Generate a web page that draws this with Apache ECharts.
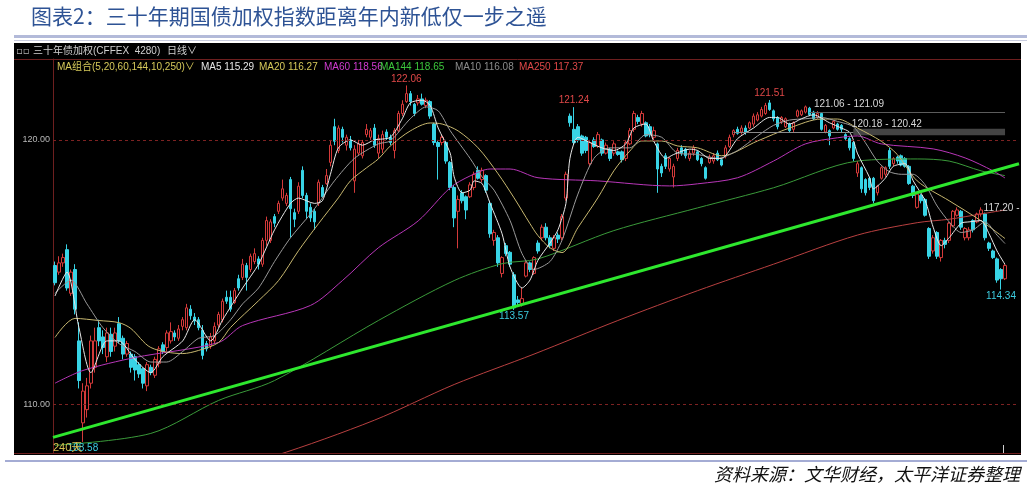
<!DOCTYPE html>
<html><head><meta charset="utf-8">
<script src="https://cdn.jsdelivr.net/npm/echarts@6/dist/echarts.min.js"></script>
<style>html,body{margin:0;padding:0;background:#fff;}#c{width:1032px;height:489px;}</style>
</head><body><div id="c"></div>
<script>
// ---- data ----
const opens = [
115.25,115.0,115.35,115.85,114.2,115.1,112.4,109.3,109.8,110.8,
111.4,112.9,112.55,111.8,112.65,112.2,113.05,112.5,111.9,111.9,
111.8,111.5,111.35,110.7,111.4,111.1,111.55,112.25,112.15,112.4,
112.7,112.5,112.95,112.9,113.6,113.3,113.2,112.8,112.3,112.2,
112.4,113.0,113.2,114.05,114.05,113.85,114.75,114.8,115.25,115.1,
115.4,115.5,115.3,116.2,116.2,117.1,117.3,117.8,117.6,118.5,
117.25,117.3,118.85,117.9,117.45,117.3,117.6,118.2,118.35,119.15,
120.5,119.6,120.4,119.8,120.0,118.45,119.5,119.4,120.2,120.1,
120.45,119.5,119.65,120.3,120.1,119.6,120.35,121.0,121.45,121.75,
121.35,121.4,121.55,121.3,121.45,120.6,119.9,119.9,119.9,119.15,
118.2,117.3,118.0,117.85,117.85,118.2,118.85,118.5,118.65,117.6,
116.2,116.3,114.95,116.0,115.75,114.9,113.95,113.8,114.85,115.35,
114.95,116.1,116.3,116.7,116.3,115.9,116.4,116.3,117.8,120.9,
120.4,120.5,120.15,120.1,119.1,120.0,119.75,120.0,119.5,119.65,
119.5,119.55,119.55,119.3,119.85,120.4,120.85,120.6,120.65,120.5,
120.1,119.85,119.0,119.4,118.9,118.6,119.3,119.7,119.65,119.3,
119.5,119.55,119.3,118.95,119.15,119.2,119.5,119.25,119.4,119.75,
120.2,120.4,120.3,120.45,120.45,120.6,120.75,120.9,121.0,121.4,
121.1,120.85,120.7,120.5,120.6,120.4,120.9,120.95,121.05,121.2,
121.05,120.85,121.0,120.3,120.35,120.45,120.6,120.55,120.2,120.05,
119.9,118.75,118.95,118.5,118.55,118.55,118.0,118.55,118.7,119.6,
119.1,119.35,119.4,119.3,119.0,118.25,117.45,117.9,117.75,116.65,
115.8,116.5,115.55,116.2,116.2,116.75,117.15,117.3,116.3,116.3,
116.95,116.9,117.2,117.2,116.1,115.8,115.5,115.1,114.75];
const closes = [
114.6,115.35,115.55,114.4,115.0,113.6,110.9,110.5,110.7,112.4,
112.4,112.4,112.15,112.7,112.0,112.7,112.4,111.9,112.3,111.4,
111.3,111.15,110.8,111.5,111.2,111.7,112.1,112.0,112.7,112.75,
112.55,112.85,113.2,113.65,113.35,113.15,112.9,111.85,112.1,112.55,
112.95,113.4,113.9,113.9,113.6,114.3,114.4,115.3,114.8,115.6,
115.7,115.3,116.2,116.95,116.9,116.85,117.6,118.15,117.9,117.4,
117.0,118.25,117.9,117.3,117.05,116.9,118.4,117.85,118.65,119.8,
119.95,120.45,120.1,120.1,119.7,119.65,119.85,119.9,120.4,120.35,
119.8,120.05,120.2,120.1,119.9,120.35,121.0,121.35,121.75,121.45,
121.0,121.55,121.35,121.5,120.9,119.9,119.75,120.1,119.2,118.2,
117.05,117.75,117.7,117.35,118.3,118.7,118.55,118.85,118.1,116.45,
116.5,115.35,115.55,115.7,115.3,113.65,113.85,114.0,115.35,115.1,
115.55,115.8,116.7,116.3,116.0,116.3,116.25,117.1,118.7,120.65,
119.9,120.0,119.5,119.6,119.9,119.75,120.2,119.5,119.8,119.3,
119.85,119.45,119.25,119.9,120.35,121.0,120.7,121.0,120.15,120.2,
120.35,118.9,118.75,119.0,119.3,119.0,119.6,119.5,119.4,119.5,
119.7,119.25,119.1,118.55,119.35,119.4,119.25,119.05,119.7,120.1,
120.35,120.25,120.45,120.3,120.65,120.9,120.95,121.15,121.3,121.15,
120.8,120.5,120.85,120.8,120.35,120.65,121.1,121.1,121.25,120.95,
120.8,121.0,120.4,120.55,120.15,120.7,120.4,120.4,120.05,119.7,
119.3,119.1,118.15,118.0,118.2,117.7,118.25,118.95,118.95,119.0,
119.3,119.2,119.05,119.0,118.35,117.9,117.95,117.7,117.15,115.6,
116.3,115.6,116.2,116.05,116.85,117.3,117.35,116.7,116.65,116.6,
116.6,117.2,117.35,116.3,115.9,115.55,114.7,114.75,115.25];
const lows = [
114.5,114.9,115.2,114.3,114.1,113.4,110.6,108.58,109.5,110.6,
111.2,112.2,111.9,111.6,111.8,112.0,112.3,111.7,111.8,111.2,
110.9,111.0,110.6,110.5,111.1,111.0,111.4,111.9,112.0,112.3,
112.4,112.4,112.8,112.8,113.2,113.0,112.8,111.7,112.0,112.1,
112.3,112.9,113.1,113.8,113.5,113.8,114.3,114.7,114.3,115.0,
115.3,115.1,115.2,116.0,116.1,116.7,117.2,117.7,117.5,116.3,
116.7,117.2,117.8,117.0,116.9,116.6,117.5,117.8,118.3,119.0,
119.8,119.5,119.9,119.6,119.6,118.0,119.4,119.3,120.1,120.0,
119.7,119.3,119.5,120.0,119.8,119.3,120.3,120.9,121.4,121.3,
120.9,121.3,121.3,121.2,120.8,119.8,118.5,119.8,119.1,118.1,
116.7,115.9,117.6,117.0,117.8,118.1,118.5,118.4,118.0,116.3,
116.0,115.2,114.8,115.6,115.2,113.57,113.7,113.7,114.8,115.0,
114.9,115.7,116.2,116.2,115.9,115.8,116.1,116.2,117.7,120.5,
119.8,119.9,119.4,119.5,119.0,119.7,119.7,119.4,119.45,119.2,
119.4,119.4,119.15,119.2,119.8,120.3,120.6,120.5,120.1,120.1,
120.0,118.0,118.6,118.9,118.8,118.2,119.2,119.4,119.3,119.2,
119.4,119.2,119.0,118.5,119.1,119.1,119.2,119.0,119.3,119.7,
120.1,120.2,120.2,120.2,120.4,120.5,120.7,120.85,120.95,121.1,
120.7,120.4,120.6,120.45,120.3,120.3,120.85,120.9,121.0,120.9,
120.75,120.8,120.35,120.25,119.8,120.4,120.35,120.3,120.0,119.6,
119.2,118.6,118.0,117.9,118.1,117.6,117.9,118.5,118.6,118.9,
119.0,119.1,119.0,118.95,118.3,117.8,117.4,117.6,117.1,115.5,
115.7,115.5,115.4,115.9,116.1,116.7,117.1,116.6,116.2,116.2,
116.5,116.85,117.1,116.2,115.8,115.5,114.6,114.34,114.7];
const highs = [
115.4,115.6,115.7,116.05,115.1,115.3,113.1,110.8,111.0,112.6,
112.9,113.2,112.8,112.9,112.9,112.9,113.3,112.6,112.4,112.0,
111.9,111.6,111.4,111.6,111.5,111.8,112.2,112.35,112.8,113.1,
112.8,113.0,113.3,113.8,113.75,113.45,113.3,113.0,112.4,112.7,
113.1,113.5,114.0,114.3,114.3,114.4,114.9,115.5,115.35,115.7,
115.9,115.6,116.3,117.1,117.0,117.2,117.7,118.5,118.0,118.6,
117.4,118.4,119.0,118.0,117.6,117.4,118.5,118.3,118.9,120.0,
120.8,120.55,120.5,120.2,120.15,119.8,120.0,120.0,120.6,120.45,
120.6,120.2,120.35,120.4,120.2,120.45,121.1,121.5,122.06,121.85,
121.4,121.7,121.75,121.6,121.5,120.65,120.0,120.2,120.0,119.2,
118.3,117.9,118.1,117.9,118.4,118.8,119.0,118.95,118.7,117.7,
116.6,116.4,115.6,116.1,115.8,115.0,114.1,114.4,115.45,115.4,
115.6,116.2,116.8,116.85,116.4,116.4,116.5,117.2,118.8,121.0,
121.24,120.6,120.2,120.15,120.0,120.1,120.3,120.05,119.9,119.7,
119.95,119.6,119.6,120.0,120.45,121.1,120.95,121.1,120.7,120.6,
120.5,119.9,119.1,119.5,119.35,119.1,119.7,119.8,119.7,119.6,
119.8,119.6,119.35,119.0,119.45,119.5,119.6,119.3,119.8,120.2,
120.4,120.5,120.55,120.55,120.7,121.0,121.05,121.25,121.4,121.51,
121.15,120.9,120.9,120.85,120.65,120.7,121.15,121.15,121.3,121.25,
121.1,121.09,121.05,120.6,120.4,120.75,120.65,120.6,120.25,120.1,
119.95,119.2,119.0,118.55,118.6,118.6,118.3,119.0,119.0,119.7,
119.35,119.4,119.45,119.35,119.05,118.3,118.0,117.95,117.8,116.7,
116.4,116.55,116.25,116.3,116.9,117.35,117.45,117.35,116.7,116.7,
117.0,117.25,117.45,117.25,116.15,115.85,115.55,115.15,115.3];

// moving-average curves, read as [day index, value] points
const ma5 = [[0,114.1],[3,115.0],[6,112.9],[9,111.2],[13,112.4],[16,112.4],[20,111.7],[24,111.2],[27,111.8],[32,112.4],[35,113.2],[39,112.4],[42,113.2],[47,114.4],[51,115.3],[55,116.6],[59,117.6],[61,117.8],[65,117.6],[67,117.7],[69,118.7],[71,119.7],[74,120.0],[77,119.8],[80,120.0],[84,120.1],[87,120.8],[89,121.4],[92,121.5],[94,121.3],[96,120.45],[99,119.5],[100,118.6],[102,118.0],[104,118.1],[105,118.45],[107,118.35],[109,117.6],[112,116.45],[114,115.2],[117,114.4],[119,114.7],[121,115.45],[124,116.1],[126,116.6],[128,117.6],[129,119.3],[131,120.1],[134,119.9],[137,119.7],[140,119.6],[143,119.85],[145,120.45],[148,120.6],[150,119.95],[153,119.3],[155,119.45],[159,119.65],[161,119.6],[164,119.3],[167,119.3],[171,120.05],[175,120.45],[179,120.85],[181,120.85],[184,120.6],[187,120.8],[190,120.95],[194,120.65],[197,120.45],[199,120.3],[200,120.0],[201,119.5],[204,118.6],[205,118.15],[208,118.55],[210,119.0],[213,119.1],[215,118.45],[218,117.7],[220,116.7],[222,116.0],[224,116.3],[227,116.85],[229,116.9],[232,116.95],[234,116.45],[236,115.8],[238,115.29]];
const ma10 = [[0,114.2],[4,114.7],[8,113.8],[12,112.9],[16,112.3],[20,112.0],[24,111.6],[28,111.6],[32,112.0],[36,112.5],[40,112.6],[44,113.2],[47,113.8],[51,114.4],[55,115.4],[59,116.3],[64,117.2],[66,117.6],[70,118.45],[75,119.3],[81,119.85],[84,119.96],[89,120.8],[93,121.25],[96,121.1],[99,120.35],[104,119.3],[107,118.6],[110,118.1],[114,116.95],[117,115.7],[120,115.1],[124,115.4],[127,116.2],[131,117.95],[135,119.3],[139,119.7],[144,119.7],[148,120.2],[152,120.1],[156,119.5],[161,119.45],[166,119.3],[171,119.6],[176,120.15],[180,120.55],[184,120.75],[188,120.8],[192,120.85],[196,120.7],[200,120.5],[203,119.9],[206,119.2],[209,118.8],[212,118.7],[215,118.7],[218,118.3],[221,117.5],[224,116.9],[227,116.5],[230,116.6],[233,116.9],[236,116.4],[238,116.08]];
const ma20 = [[0,112.53],[5,113.25],[11,113.17],[16,113.09],[19,112.87],[24,112.15],[32,111.92],[36,112.04],[41,112.34],[44,112.91],[51,113.92],[56,114.68],[61,115.81],[66,116.83],[71,117.81],[74,118.45],[78,118.94],[81,119.28],[84,119.77],[89,120.34],[94,120.64],[97,120.6],[101,120.34],[106,119.7],[111,118.72],[115,117.81],[119,116.83],[121,116.38],[124,115.92],[127,115.74],[131,116.68],[136,117.81],[140,118.83],[144,119.58],[147,119.96],[152,119.96],[156,119.77],[161,119.7],[167,119.4],[176,119.96],[184,120.45],[192,120.79],[196,120.79],[201,120.45],[207,119.95],[211,119.45],[216,118.45],[224,117.7],[232,116.94],[238,116.27]];
const ma60 = [[0,110.8],[7,111.28],[20,111.77],[41,112.34],[47,112.98],[64,113.74],[72,114.68],[81,115.92],[91,116.94],[99,118.19],[104,118.64],[109,118.9],[114,118.9],[121,118.57],[136,118.45],[154,118.26],[161,118.34],[171,118.57],[180,119.2],[188,119.85],[196,120.08],[201,120.15],[207,119.85],[220,119.66],[228,119.32],[235,118.83],[238,118.56]];
const ma144 = [[0,108.45],[24,108.9],[41,110.15],[55,110.9],[81,113.17],[100,114.68],[112,115.32],[121,115.5],[140,116.57],[161,117.43],[180,118.19],[201,119.2],[216,119.28],[224,119.2],[232,118.83],[238,118.65]];
const ma250 = [[40,107.5],[55,108.05],[80,109.4],[100,110.75],[120,111.9],[141,113.17],[161,114.3],[180,115.3],[201,116.4],[216,116.87],[224,117.0],[232,117.2],[238,117.35]];

const trendLine = [108.75, 119.10];           // hand-drawn support line, left edge -> right edge
const yTicks = [110, 120];
const highMarks = [[88,122.06],[130,121.24],[179,121.51]];
const lowMarks = [[7,108.58],[115,113.57],[237,114.34]];
const zoneBand = {lineFrom:170, from:200, to:238, low:120.18, high:120.42};
const zoneLine = {from:189, to:238, low:121.06, high:121.09};
const lastMark = [232, 117.20];
const maLegend = [
  ['MA5', '115.29', '#e6e6e6'], ['MA20', '116.27', '#d6c95a'], ['MA60', '118.56', '#d23cd2'],
  ['MA144', '118.65', '#3cc83c'], ['MA10', '116.08', '#8c8c8c'], ['MA250', '117.37', '#e04848']
];
const dayCount = 242;
const categories = Array.from({length: dayCount}, (_, i) => 'D' + (i + 1));

// ---- chart ----
const chart = echarts.init(document.getElementById('c'), null, {renderer: 'canvas'});
const FONT = '"Liberation Sans", "Noto Sans CJK SC", sans-serif';
const candles = opens.map((o, i) => [o, closes[i], lows[i], highs[i]]);

function maSeries(name, data, color, smooth) {
  return {name, type: 'line', data, symbol: 'none', smooth, silent: true,
    lineStyle: {color, width: 1}, z: 3};
}

const legendX = [201, 259, 324, 380, 455, 519];
const graphics = [
  {type: 'rect', shape: {x: 14, y: 43, width: 1007, height: 412}, style: {fill: '#000'}, z: -10},
  {type: 'text', z: 50, style: {x: 31, y: 16, text: '图表2：三十年期国债加权指数距离年内新低仅一步之遥',
    fill: '#2e5395', font: '21px "Noto Sans CJK SC"', verticalAlign: 'middle'}},
  {type: 'rect', shape: {x: 14, y: 35, width: 1013, height: 3}, style: {fill: '#b3bad9'}, z: 50},
  {type: 'rect', shape: {x: 14, y: 40, width: 1013, height: 1}, style: {fill: '#c9cde0'}, z: 50},
  {type: 'line', shape: {x1: 14, y1: 59.5, x2: 1021, y2: 59.5}, style: {stroke: '#6e1f1f', lineWidth: 1}, z: 50},
  {type: 'line', shape: {x1: 14, y1: 453.5, x2: 1021, y2: 453.5}, style: {stroke: '#6e1f1f', lineWidth: 1}, z: 50},
  {type: 'line', shape: {x1: 1003.5, y1: 445, x2: 1003.5, y2: 453}, style: {stroke: '#cfcfcf', lineWidth: 1}, z: 50},
  {type: 'rect', shape: {x: 5, y: 460, width: 1022, height: 2}, style: {fill: '#a4acd4'}, z: 50},
  {type: 'text', z: 50, style: {x: 1020, y: 474, text: '资料来源：文华财经，太平洋证券整理', fill: '#111',
    font: 'italic 18px "Noto Sans CJK SC"', align: 'right', verticalAlign: 'middle'}},
  {type: 'text', z: 50, style: {x: 16, y: 51, text: '▫▫', fill: '#b0b0b0', font: '10px "DejaVu Sans"', verticalAlign: 'middle'}},
  {type: 'text', z: 50, style: {x: 33, y: 51, text: '三十年债加权(CFFEX  4280)', fill: '#d0d0d0', font: '10px ' + FONT, verticalAlign: 'middle'}},
  {type: 'text', z: 50, style: {x: 167, y: 51, text: '日线∨', fill: '#d0d0d0', font: '10px ' + FONT, verticalAlign: 'middle'}},
  {type: 'text', z: 50, style: {x: 57, y: 67, text: 'MA组合(5,20,60,144,10,250)∨', fill: '#d6c95a', font: '10px ' + FONT, verticalAlign: 'middle'}},
  {type: 'text', z: 50, style: {x: 53, y: 448, text: '240天', fill: '#d8c050', font: '11px ' + FONT, verticalAlign: 'middle'}}
];
maLegend.forEach((m, k) => graphics.push({type: 'text', z: 50,
  style: {x: legendX[k], y: 67, text: m[0] + ' ' + m[1], fill: m[2], font: '10px ' + FONT, verticalAlign: 'middle'}}));

const markLabel = (coord, text, color, position, distance, offset) => ({
  coord, value: text, symbol: 'rect', symbolSize: 1, itemStyle: {color: 'rgba(0,0,0,0)'},
  label: {show: true, formatter: text, color, position, distance, offset: offset || [0, 0],
    fontSize: 10, fontFamily: FONT}
});
const marks = [];
highMarks.forEach(p => marks.push(markLabel(p, p[1].toFixed(2), '#e04848', 'top', 1)));
lowMarks.forEach(p => marks.push(markLabel(p, p[1].toFixed(2), '#3ccce0', 'bottom', 1)));
marks.push(markLabel([zoneLine.from, zoneLine.high], zoneLine.low.toFixed(2) + ' - ' + zoneLine.high.toFixed(2), '#d8d8d8', 'right', 4, [0, -7]));
marks.push(markLabel([zoneBand.from, zoneBand.high], zoneBand.low.toFixed(2) + ' - ' + zoneBand.high.toFixed(2), '#d8d8d8', 'right', 0, [-2, -5]));
marks.push(markLabel(lastMark, lastMark[1].toFixed(2) + ' -', '#d8d8d8', 'right', 2, [0, -6]));

const bandMid = (zoneBand.low + zoneBand.high) / 2;
const option = {
  animation: false,
  backgroundColor: '#ffffff',
  textStyle: {fontFamily: FONT},
  graphic: graphics,
  grid: {left: 53, top: 59, width: 966, height: 394, containLabel: false},
  xAxis: [
    {type: 'category', data: categories, boundaryGap: true,
      axisLine: {show: true, lineStyle: {color: '#6e1f1f'}}, axisTick: {show: false},
      axisLabel: {show: false}, splitLine: {show: false}},
    {type: 'value', min: 0, max: 1, show: false}
  ],
  yAxis: {type: 'value', min: 108.16, max: 123.06, scale: true,
    axisLine: {show: true, lineStyle: {color: '#6e1f1f'}}, axisTick: {show: false},
    splitLine: {show: false},
    axisLabel: {show: true, customValues: yTicks, color: '#b8b8b8', fontSize: 9, margin: 3,
      formatter: v => Number(v).toFixed(2)}},
  series: [
    {type: 'candlestick', data: candles, barWidth: 3, z: 2,
      itemStyle: {color: '#000000', color0: '#38d4e6', borderColor: '#d43a3a', borderColor0: '#38d4e6', borderWidth: 1},
      markLine: {silent: true, symbol: 'none', label: {show: false},
        data: [
          ...yTicks.map(v => ({yAxis: v, lineStyle: {color: '#7d2222', type: [3, 3], width: 1}})),
          [{coord: [zoneLine.from, zoneLine.low], lineStyle: {color: '#5c5c5c', type: 'solid', width: 1}},
           {coord: [zoneLine.to, zoneLine.low]}],
          [{coord: [zoneBand.lineFrom, bandMid], lineStyle: {color: '#8a8a8a', type: 'solid', width: 1}},
           {coord: [zoneBand.from, bandMid]}]
        ]},
      markArea: {silent: true, itemStyle: {color: 'rgba(85,85,85,0.8)'},
        data: [[{coord: [zoneBand.from, zoneBand.low]}, {coord: [zoneBand.to, zoneBand.high]}]]},
      markPoint: {silent: true, data: marks}
    },
    maSeries('MA250', ma250, '#b84040', 0.3),
    maSeries('MA144', ma144, '#3a9a3a', 0.3),
    maSeries('MA60', ma60, '#b836b8', 0.3),
    maSeries('MA20', ma20, '#c8b870', 0.3),
    maSeries('MA10', ma10, '#9a9a9a', 0.25),
    maSeries('MA5', ma5, '#e8e8e8', 0.25),
    {name: 'trend', type: 'line', xAxisIndex: 1, yAxisIndex: 0, symbol: 'none', silent: true, z: 6,
      data: [[0, trendLine[0]], [1, trendLine[1]]], lineStyle: {color: '#2ee82e', width: 3}}
  ]
};
chart.setOption(option);
</script>
</body></html>
